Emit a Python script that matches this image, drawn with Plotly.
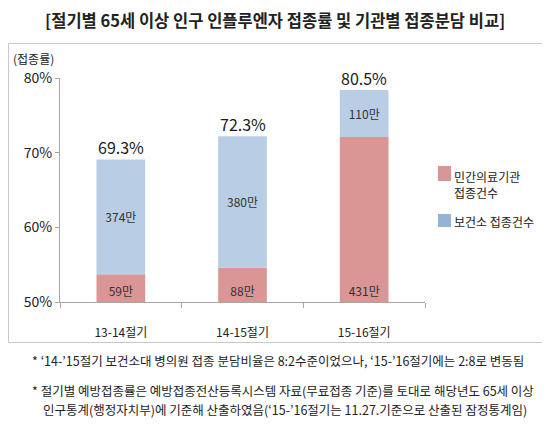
"""65세 이상 인플루엔자 접종률 + 기관별 접종분담 (stacked bar on a 50-80% axis)."""
import plotly.graph_objects as go

categories = ["13-14절기", "14-15절기", "15-16절기"]
rate_labels = ["69.3%", "72.3%", "80.5%"]
private_top = [53.7, 54.6, 72.1]      # top of the red segment as drawn (%)
total_top = [69.1, 72.2, 78.4]        # top of the whole bar as drawn (%)
private_counts = ["59만", "88만", "431만"]
public_counts = ["374만", "380만", "110만"]
series_names = ["민간의료기관<br>접종건수", "보건소 접종건수"]
y_ticks = [50, 60, 70, 80]

# the page puts the figure 8 px in from the top-left (body margin), so every
# pixel position below is given as in the reference and shifted by OFF.
OFF = 8
W, H = 550 - OFF, 432 - 2 * OFF
L, T = 60 - OFF, 78 - OFF             # plot box in reference px: x 60..425, y 78..302
R, B = W - (425 - OFF), H - (302 - OFF)
FONT = "Noto Sans CJK KR"
RED, BLUE, BLUE_KEY = "#D99694", "#B9CDE5", "#95B3D7"


def px(x):
    return (x - OFF - L) / (W - L - R)


def py(y):
    return (H - B - (y - OFF)) / (H - T - B)


def note(x, y, text, size, xanchor="left", **kw):
    return dict(x=px(x), y=py(y), xref="paper", yref="paper", text=text, showarrow=False,
                xanchor=xanchor, yanchor="middle", font=dict(size=size, color="#222222"), **kw)


def seg(x0, y0, x1, y1):
    return dict(type="line", xref="paper", yref="paper", x0=px(x0), y0=py(y0), x1=px(x1),
                y1=py(y1), line=dict(width=1, color="#C8C8C8"))


fig = go.Figure()
fig.add_trace(go.Bar(
    x=categories, y=[p - 50 for p in private_top], base=50, width=0.4,
    marker=dict(color=RED, line=dict(width=0)), name=series_names[0],
    text=private_counts, textposition="inside", insidetextanchor="start",
    textfont=dict(size=12, color="#333333", family=FONT), showlegend=False))
fig.add_trace(go.Bar(
    x=categories, y=[t - p for t, p in zip(total_top, private_top)], base=private_top,
    width=0.4, marker=dict(color=BLUE, line=dict(width=0)), name=series_names[1],
    text=public_counts, textposition="inside", insidetextanchor="middle",
    textfont=dict(size=12, color="#333333", family=FONT), showlegend=False))

ann = []
for c, t, lab in zip(categories, total_top, rate_labels):
    ann.append(dict(x=c, y=t, xref="x", yref="y", text=lab, showarrow=False,
                    yanchor="bottom", yshift=-2, font=dict(size=16, color="#1a1a1a")))

ann.append(note(11, 59, "(접종률)", 12))
ann.append(note(275, 20, "<b>[절기별 65세 이상 인구 인플루엔자 접종률 및 기관별 접종분담 비교]</b>",
                16.5, xanchor="center"))

# legend, drawn by hand to sit where the original has it; then the light frame
shapes = [
    dict(type="rect", xref="paper", yref="paper", x0=px(438), x1=px(451), y0=py(166), y1=py(181),
         fillcolor=RED, line=dict(width=0)),
    dict(type="rect", xref="paper", yref="paper", x0=px(438), x1=px(451), y0=py(214), y1=py(227),
         fillcolor=BLUE_KEY, line=dict(width=0)),
    seg(8.5, 43.5, 543.5, 43.5), seg(8.5, 342.5, 543.5, 342.5),
    seg(8.5, 43.5, 8.5, 342.5), seg(543.5, 43.5, 543.5, 342.5),
]
ann.append(note(452, 184, series_names[0], 12, align="left"))
ann.append(note(452, 221, series_names[1], 12))

ann.append(note(30, 360, "* ‘14-’15절기 보건소대 병의원 접종 분담비율은 8:2수준이었으나, "
                         "‘15-’16절기에는 2:8로 변동됨", 12.5))
ann.append(note(30, 390, "* 절기별 예방접종률은 예방접종전산등록시스템 자료(무료접종 기준)를 "
                         "토대로 해당년도 65세 이상", 12.5))
ann.append(note(41, 409, "인구통계(행정자치부)에 기준해 산출하였음(‘15-’16절기는 11.27.기준으로 "
                         "산출된 잠정통계임)", 12.5))

fig.update_layout(
    width=W, height=H, margin=dict(l=L, r=R, t=T, b=B),
    barmode="overlay", plot_bgcolor="white", paper_bgcolor="white",
    font=dict(family=FONT, color="#222222"),
    xaxis=dict(showline=True, linecolor="#A6A6A6", ticks="outside", tickson="boundaries",
               ticklen=5, tickcolor="#A6A6A6", tickfont=dict(size=12), ticklabelstandoff=20,
               showgrid=False, fixedrange=True),
    yaxis=dict(range=[50, 80], tickvals=y_ticks, ticktext=[f"{v}%" for v in y_ticks],
               showline=True, linecolor="#A6A6A6", ticks="outside", ticklen=4,
               tickcolor="#A6A6A6", tickfont=dict(size=14), showgrid=False, zeroline=False,
               fixedrange=True),
    annotations=ann, shapes=shapes, showlegend=False,
)
fig.write_html("out.html")
